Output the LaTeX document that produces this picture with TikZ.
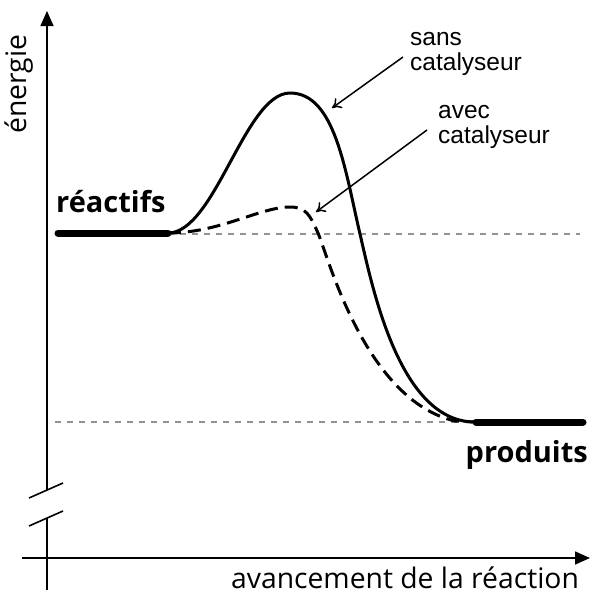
\documentclass[tikz,border=0pt]{standalone}
\usepackage{fontspec}
\setmainfont{Open Sans}
\newfontfamily\arialf{Liberation Sans}
\usetikzlibrary{arrows.meta}
\tikzset{
  axisline/.style={line width=1.6pt},
  axisarrow/.style={line width=1.6pt,-{Triangle[length=15pt,width=13pt]}},
  curveline/.style={line width=3pt},
  levelbar/.style={line width=7pt,line cap=round},
  guide/.style={line width=2pt,gray!85,dash pattern=on 6pt off 6pt},
  pointer/.style={line width=1.5pt,-{To[length=9pt,width=12pt,line width=1.5pt]}},
  biglabel/.style={font=\fontsize{28.3}{30}\selectfont, inner sep=0pt},
  boldlabel/.style={font=\bfseries\fontsize{29}{31}\selectfont, inner sep=0pt},
  smalllabel/.style={font=\arialf\fontsize{24.5}{25}\selectfont, inner sep=0pt}
}
\begin{document}
\begin{tikzpicture}[x=1pt,y=-1pt]
\useasboundingbox (0,0) rectangle (600,600);
% axes
\coordinate (ytop) at (47,11);
\coordinate (ybreakA) at (47,490);
\coordinate (ybreakB) at (47,518);
\coordinate (ybot) at (47,590);
\coordinate (xl) at (22,558);
\coordinate (xr) at (590,558);
\draw[axisarrow] (ybreakA) -- (ytop);
\draw[axisline] (ybreakB) -- (ybot);
\draw[axisarrow] (xl) -- (xr);
\coordinate (s1a) at (29,498); \coordinate (s1b) at (63,483);
\coordinate (s2a) at (29,526); \coordinate (s2b) at (63,511);
\draw[axisline] (s1a) -- (s1b);
\draw[axisline] (s2a) -- (s2b);
% guides
\coordinate (g1a) at (168,234); \coordinate (g1b) at (580,234);
\coordinate (g2a) at (55,422); \coordinate (g2b) at (475,422);
\draw[guide] (g1a) -- (g1b);
\draw[guide] (g2a) -- (g2b);
% curves
\coordinate (start) at (168,233);
\coordinate (end) at (475,422);
\draw[curveline] (start) .. controls (215,233) and (245,93) .. (290,93)
  .. controls (335,93) and (345,170) .. (360,234)
  .. controls (373,290) and (400,422) .. (end);
\draw[curveline, dash pattern=on 13pt off 7pt] (start) .. controls (220,233) and (260,207) .. (290,207)
  .. controls (306,207) and (310,215) .. (318,233)
  .. controls (328,256) and (365,400) .. (455,421) -- (end);
% level bars
\coordinate (r1) at (58,233); \coordinate (r2) at (168,233);
\coordinate (p1) at (476,422); \coordinate (p2) at (583,422);
\draw[levelbar] (r1) -- (r2);
\draw[levelbar] (p1) -- (p2);
% labels
\node[boldlabel, anchor=base west] (reac) at (56,212) {réactifs};
\node[boldlabel, anchor=base east] (prod) at (588,462) {produits};
\node[biglabel, rotate=90, anchor=base] (energ) at (27,84) {énergie};
\node[biglabel, anchor=base] (avan) at (405,588) {avancement de la réaction};
\node[smalllabel, anchor=base west] (sans1) at (410,45) {sans};
\node[smalllabel, anchor=base west] (sans2) at (410,70) {catalyseur};
\node[smalllabel, anchor=base west] (avec1) at (438,118) {avec};
\node[smalllabel, anchor=base west] (avec2) at (438,143) {catalyseur};
\coordinate (sanstip) at (332,108);
\coordinate (avectip) at (316,212);
\draw[pointer] (403,57) -- (sanstip);
\draw[pointer] (427,130) -- (avectip);
\end{tikzpicture}
\end{document}
